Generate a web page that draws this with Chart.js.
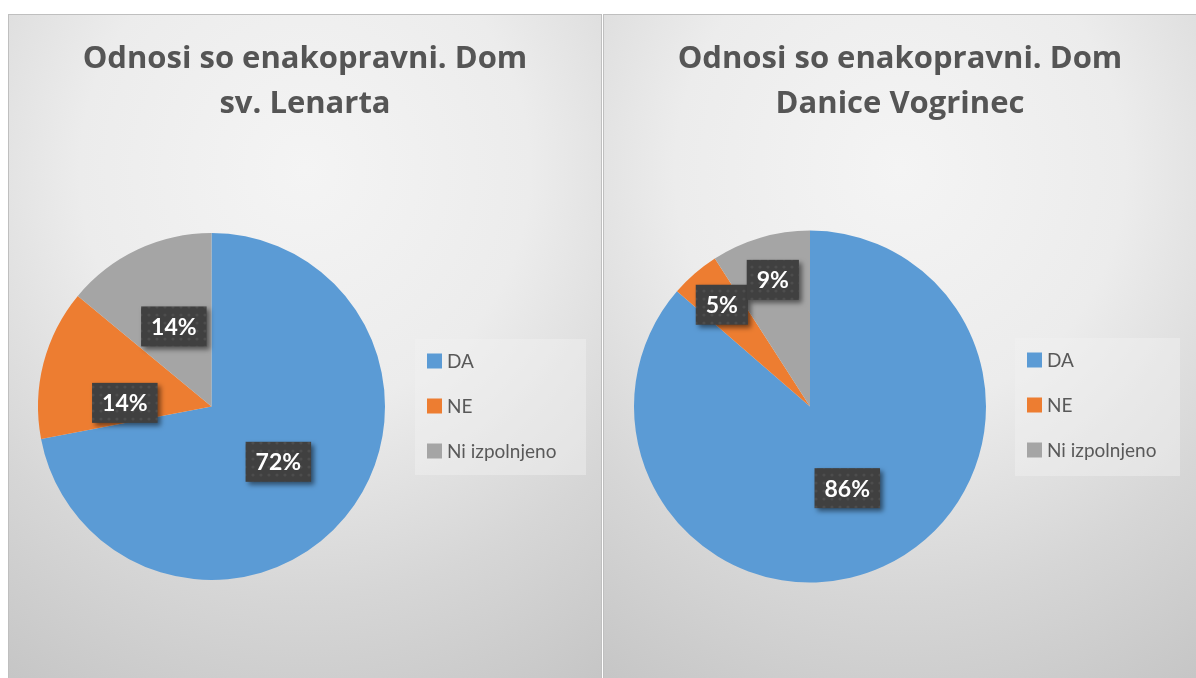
<!DOCTYPE html>
<html>
<head>
<meta charset="utf-8">
<script src="https://cdn.jsdelivr.net/npm/chart.js@4.4.1/dist/chart.umd.min.js"></script>
<style>
    html, body { margin: 0; padding: 0; background: #fff; overflow: hidden; }
    body { width: 1196px; height: 678px; position: relative; }
    .panel {
        position: absolute;
        width: 592px;
        height: 700px;
        border: 1px solid #bfbfbf;
        background: radial-gradient(ellipse 95% 85% at 50% 22%, #f4f4f4 0%, #ececec 40%, #d6d6d6 72%, #c6c6c6 100%);
    }
    canvas { display: block; }
</style>
</head>
<body>
<div class="panel" style="left:8px; top:14px;"><canvas id="chartLenart" width="592" height="700"></canvas></div>
<div class="panel" style="left:603px; top:14px;"><canvas id="chartVogrinec" width="592" height="700"></canvas></div>
<script>
const categories = ['DA', 'NE', 'Ni izpolnjeno'];
const lenartValues = [36, 7, 7];
const vogrinecValues = [38, 2, 4];
const lenartTitle = ['Odnosi so enakopravni. Dom', 'sv. Lenarta'];
const vogrinecTitle = ['Odnosi so enakopravni. Dom', 'Danice Vogrinec'];
const sliceColors = ['#5B9BD5', '#ED7D31', '#A5A5A5'];

const FONT = 'Lato, "Open Sans", sans-serif';
const TITLE_FONT = 'bold 31px "Open Sans", Lato, sans-serif';

// small dotted texture for the label boxes
const dots = document.createElement('canvas');
dots.width = 8; dots.height = 8;
const dctx = dots.getContext('2d');
dctx.fillStyle = '#404040';
dctx.fillRect(0, 0, 8, 8);
dctx.fillStyle = 'rgba(255,255,255,0.07)';
dctx.beginPath(); dctx.arc(4, 4, 1.6, 0, Math.PI * 2); dctx.fill();

// title centred over the whole panel (not just the pie area)
const panelTitle = {
    id: 'panelTitle',
    afterDraw(chart, args, opts) {
        const ctx = chart.ctx;
        ctx.save();
        ctx.font = TITLE_FONT;
        ctx.fillStyle = '#555555';
        ctx.textAlign = 'center';
        ctx.textBaseline = 'middle';
        opts.text.forEach((line, i) => {
            ctx.fillText(line, chart.width / 2, 44 + i * 45);
        });
        ctx.restore();
    }
};

// percentage labels in dark boxes
const pieLabels = {
    id: 'pieLabels',
    afterDatasetsDraw(chart, args, opts) {
        const ctx = chart.ctx;
        const meta = chart.getDatasetMeta(0);
        const values = chart.data.datasets[0].data;
        const total = values.reduce((a, b) => a + b, 0);
        meta.data.forEach((arc, i) => {
            const p = arc.getProps(['x', 'y', 'startAngle', 'endAngle', 'outerRadius'], true);
            const mid = (p.startAngle + p.endAngle) / 2 + (opts.shift[i] || 0) * Math.PI / 180;
            const r = p.outerRadius * opts.dist[i];
            const cx = p.x + Math.cos(mid) * r;
            const cy = p.y + Math.sin(mid) * r;
            const text = Math.round(values[i] / total * 100) + '%';
            ctx.save();
            ctx.font = 'bold 23px ' + FONT;
            const w = ctx.measureText(text).width + 20;
            const h = 40;
            ctx.shadowColor = 'rgba(0,0,0,0.5)';
            ctx.shadowBlur = 5;
            ctx.shadowOffsetX = 3;
            ctx.shadowOffsetY = 3;
            ctx.fillStyle = ctx.createPattern(dots, 'repeat');
            ctx.fillRect(cx - w / 2, cy - h / 2, w, h);
            ctx.shadowColor = 'transparent';
            ctx.fillStyle = '#ffffff';
            ctx.textAlign = 'center';
            ctx.textBaseline = 'middle';
            ctx.fillText(text, cx, cy + 1);
            ctx.restore();
        });
    }
};

// legend on a light box to the right of the pie
const boxLegend = {
    id: 'boxLegend',
    afterDraw(chart, args, opts) {
        const ctx = chart.ctx;
        const ds = chart.data.datasets[0];
        ctx.save();
        ctx.fillStyle = 'rgba(242,242,242,0.45)';
        ctx.fillRect(opts.x, opts.y, opts.w, opts.h);
        ctx.font = '19px ' + FONT;
        ctx.textBaseline = 'middle';
        chart.data.labels.forEach((label, i) => {
            const y = opts.y + 22 + i * 45;
            ctx.fillStyle = ds.backgroundColor[i];
            ctx.fillRect(opts.x + 12, y - 7.5, 15, 15);
            ctx.fillStyle = '#595959';
            ctx.fillText(label, opts.x + 32, y + 1);
        });
        ctx.restore();
    }
};

const makePie = (id, title, values, pad, legendBox, labelPos) => {
    const ctx = document.getElementById(id).getContext('2d');
    return new Chart(ctx, {
        type: 'pie',
        data: {
            labels: categories,
            datasets: [{
                data: values,
                backgroundColor: sliceColors,
                borderWidth: 0
            }]
        },
        options: {
            responsive: false,
            animation: false,
            devicePixelRatio: 1,
            layout: { padding: pad },
            plugins: {
                legend: { display: false },
                tooltip: { enabled: false },
                title: { display: false },
                panelTitle: { text: title },
                boxLegend: legendBox,
                pieLabels: labelPos
            }
        },
        plugins: [panelTitle, pieLabels, boxLegend]
    });
};

makePie('chartLenart', lenartTitle, lenartValues,
    { left: 0, right: 187, top: 218, bottom: 135 },
    { x: 406, y: 324, w: 171, h: 136 },
    { dist: [0.5, 0.5, 0.51], shift: [0, -12, 0] });

makePie('chartVogrinec', vogrinecTitle, vogrinecValues,
    { left: 0, right: 180, top: 215.5, bottom: 132.5 },
    { x: 411, y: 323, w: 165, h: 138 },
    { dist: [0.51, 0.765, 0.75], shift: [0, 0, 0] });
</script>
</body>
</html>
